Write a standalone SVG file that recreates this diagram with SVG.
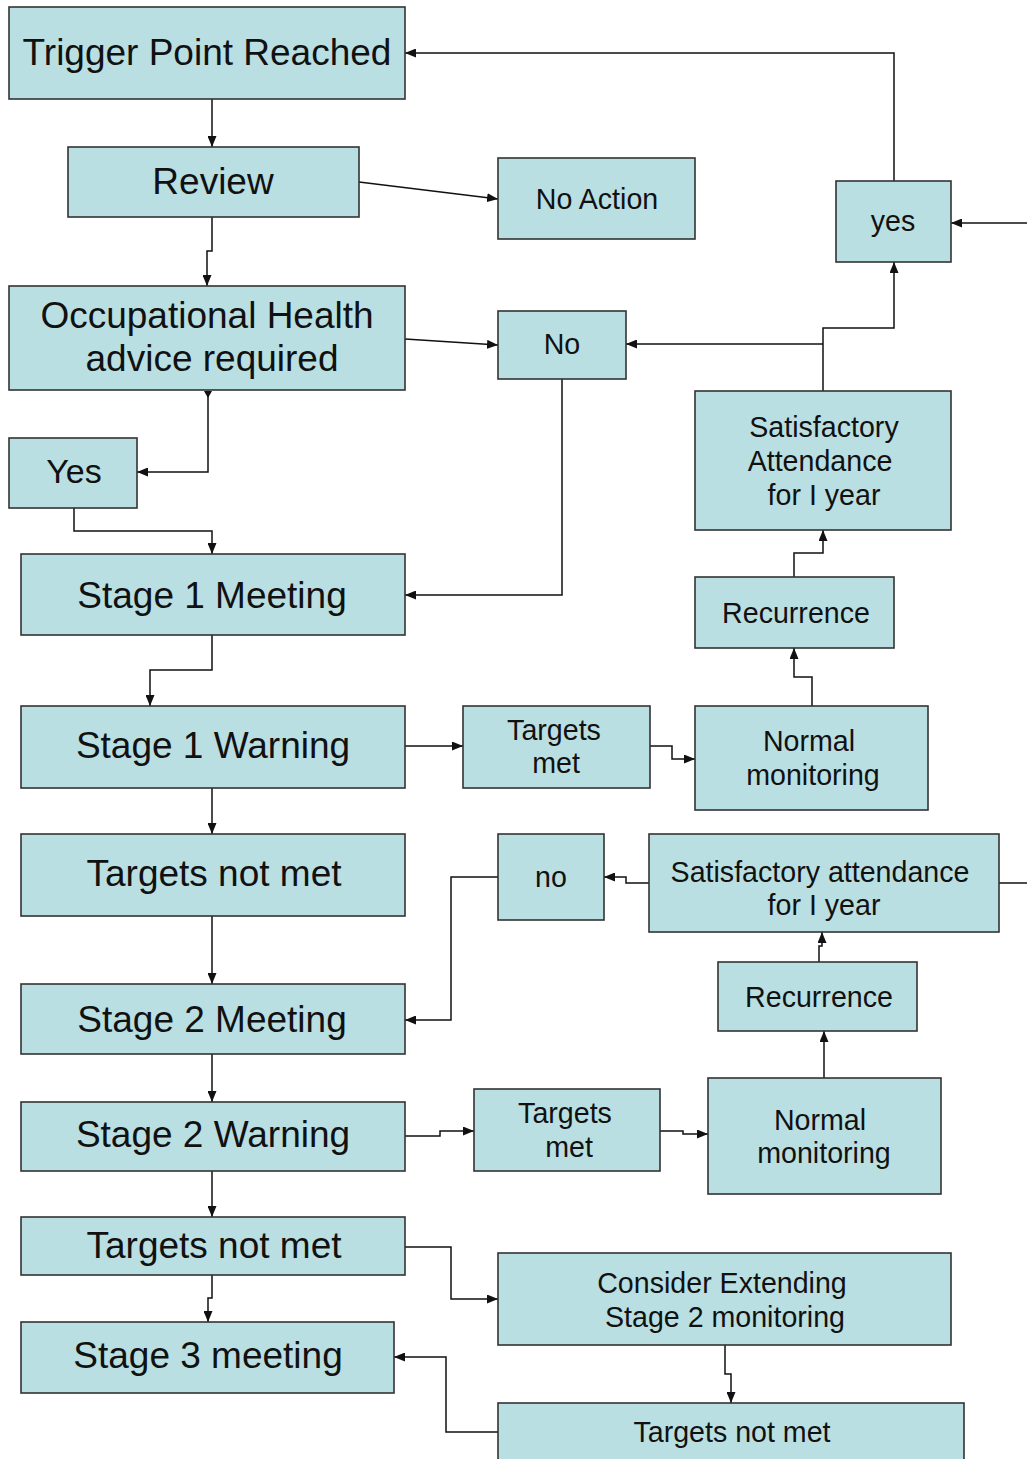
<svg xmlns="http://www.w3.org/2000/svg" width="1027" height="1459" viewBox="0 0 1027 1459">
<style>
.box{fill:#badfe2;stroke:#333;stroke-width:1.6}
.t{font-family:"Liberation Sans",Arial,sans-serif;fill:#111;text-anchor:middle}
.L{font-size:37px}
.M{font-size:34px}
.S{font-size:28.6px}
.c{fill:none;stroke:#111;stroke-width:1.5}
.a{marker-end:url(#arr)}
</style>
<defs>
<marker id="arr" viewBox="0 0 11 9" refX="11" refY="4.5" markerWidth="11" markerHeight="9" orient="auto" markerUnits="userSpaceOnUse"><path d="M0,0 L11,4.5 L0,9 z" fill="#111"/></marker>
</defs>
<rect width="1027" height="1459" fill="#fff"/>
<g id="connectors">
<path class="c a" d="M212,99 V147"/>
<path class="c a" d="M359,182 L498,199"/>
<path class="c a" d="M212,217 V251 H207 V286"/>
<path class="c a" d="M405,339 L498,345"/>
<path class="c a" d="M208,391 V472 H137"/>
<polygon points="204,391 212,391 208,398" fill="#111"/>
<path class="c a" d="M74,508 V531 H212 V554"/>
<path class="c a" d="M562,379 V595 H405"/>
<path class="c a" d="M894,181 V53 H405"/>
<path class="c a" d="M1027,223 H951"/>
<path class="c a" d="M823,391 V328 H894 V262"/>
<path class="c a" d="M823,344 H626"/>
<path class="c a" d="M794,577 V553 H823 V530"/>
<path class="c a" d="M812,706 V677 H794 V648"/>
<path class="c a" d="M650,746 H672 V759 H695"/>
<path class="c a" d="M405,746 H463"/>
<path class="c a" d="M212,635 V670 H150 V706"/>
<path class="c a" d="M212,788 V834"/>
<path class="c a" d="M212,916 V984"/>
<path class="c a" d="M649,883 H626 V877 H604"/>
<path class="c" d="M999,883 H1027"/>
<path class="c a" d="M498,877 H451 V1020 H405"/>
<path class="c a" d="M819,962 V946 H822 V932"/>
<path class="c a" d="M824,1078 V1031"/>
<path class="c a" d="M660,1131 H683 V1134 H708"/>
<path class="c a" d="M405,1136 H440 V1131 H474"/>
<path class="c a" d="M212,1054 V1102"/>
<path class="c a" d="M212,1171 V1217"/>
<path class="c a" d="M212,1275 V1298 H208 V1322"/>
<path class="c a" d="M405,1247 H451 V1299 H498"/>
<path class="c a" d="M725,1345 V1374 H731 V1403"/>
<path class="c a" d="M498,1432 H446 V1357 H394"/>
</g>
<g id="trigger"><rect class="box" x="9" y="7" width="396" height="92"/><text class="t L" x="207" y="65">Trigger Point Reached</text></g>
<g id="review"><rect class="box" x="68" y="147" width="291" height="70"/><text class="t L" x="213" y="194">Review</text></g>
<g id="noaction"><rect class="box" x="498" y="158" width="197" height="81"/><text class="t S" x="597" y="209">No Action</text></g>
<g id="yes-top"><rect class="box" x="836" y="181" width="115" height="81"/><text class="t S" x="893" y="231">yes</text></g>
<g id="oh"><rect class="box" x="9" y="286" width="396" height="104"/><text class="t L" x="207" y="328">Occupational Health</text><text class="t L" x="212" y="371">advice required</text></g>
<g id="no-top"><rect class="box" x="498" y="311" width="128" height="68"/><text class="t S" x="562" y="354">No</text></g>
<g id="sat1"><rect class="box" x="695" y="391" width="256" height="139"/><text class="t S" x="824" y="437">Satisfactory</text><text class="t S" x="820" y="471">Attendance</text><text class="t S" x="824" y="505">for I year</text></g>
<g id="yes-left"><rect class="box" x="9" y="438" width="128" height="70"/><text class="t M" x="74" y="483">Yes</text></g>
<g id="s1meeting"><rect class="box" x="21" y="554" width="384" height="81"/><text class="t L" x="212" y="608">Stage 1 Meeting</text></g>
<g id="recurrence1"><rect class="box" x="695" y="577" width="199" height="71"/><text class="t S" x="796" y="623">Recurrence</text></g>
<g id="s1warning"><rect class="box" x="21" y="706" width="384" height="82"/><text class="t L" x="213" y="758">Stage 1 Warning</text></g>
<g id="tmet1"><rect class="box" x="463" y="706" width="187" height="82"/><text class="t S" x="554" y="740">Targets</text><text class="t S" x="556" y="773">met</text></g>
<g id="normal1"><rect class="box" x="695" y="706" width="233" height="104"/><text class="t S" x="809" y="751">Normal</text><text class="t S" x="813" y="785">monitoring</text></g>
<g id="tnm1"><rect class="box" x="21" y="834" width="384" height="82"/><text class="t L" x="214" y="886">Targets not met</text></g>
<g id="no-mid"><rect class="box" x="498" y="834" width="106" height="86"/><text class="t S" x="551" y="887">no</text></g>
<g id="sat2"><rect class="box" x="649" y="834" width="350" height="98"/><text class="t S" x="820" y="882">Satisfactory attendance</text><text class="t S" x="824" y="915">for I year</text></g>
<g id="recurrence2"><rect class="box" x="718" y="962" width="199" height="69"/><text class="t S" x="819" y="1007">Recurrence</text></g>
<g id="s2meeting"><rect class="box" x="21" y="984" width="384" height="70"/><text class="t L" x="212" y="1032">Stage 2 Meeting</text></g>
<g id="normal2"><rect class="box" x="708" y="1078" width="233" height="116"/><text class="t S" x="820" y="1130">Normal</text><text class="t S" x="824" y="1163">monitoring</text></g>
<g id="tmet2"><rect class="box" x="474" y="1089" width="186" height="82"/><text class="t S" x="565" y="1123">Targets</text><text class="t S" x="569" y="1157">met</text></g>
<g id="s2warning"><rect class="box" x="21" y="1102" width="384" height="69"/><text class="t L" x="213" y="1147">Stage 2 Warning</text></g>
<g id="tnm2"><rect class="box" x="21" y="1217" width="384" height="58"/><text class="t L" x="214" y="1258">Targets not met</text></g>
<g id="consider"><rect class="box" x="498" y="1253" width="453" height="92"/><text class="t S" x="722" y="1293">Consider Extending</text><text class="t S" x="725" y="1327">Stage 2 monitoring</text></g>
<g id="s3meeting"><rect class="box" x="21" y="1322" width="373" height="71"/><text class="t L" x="208" y="1368">Stage 3 meeting</text></g>
<g id="tnm3"><rect class="box" x="498" y="1403" width="466" height="70"/><text class="t S" x="732" y="1442">Targets not met</text></g>
</svg>
